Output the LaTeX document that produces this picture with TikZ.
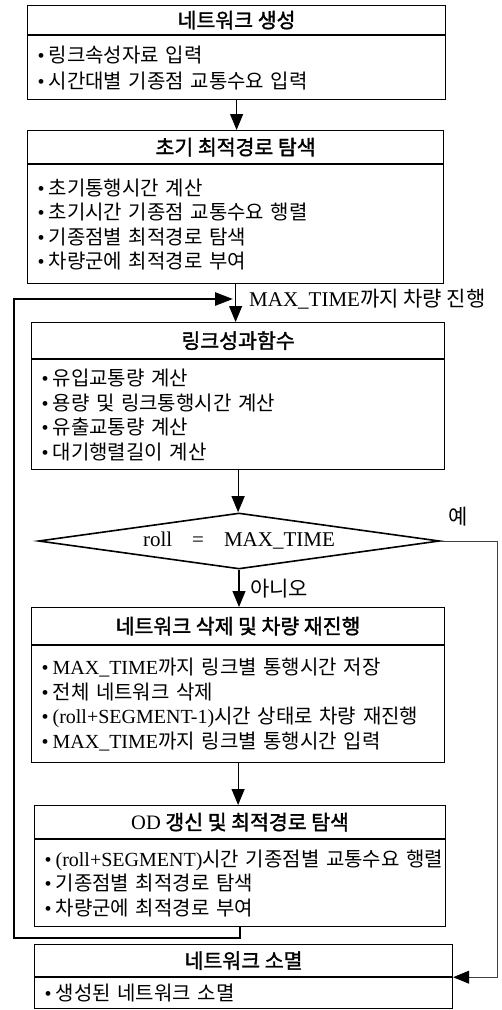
\documentclass[tikz,border=0pt]{standalone}
\usepackage{fontspec}
\setmainfont{Noto Sans CJK KR}
\newfontfamily\krbold[FakeBold=1.6]{Noto Sans CJK KR}
\newfontfamily\latin[Scale=1.0]{Liberation Serif}
\usetikzlibrary{shapes.geometric,arrows.meta}
\newcommand{\LT}[1]{{\latin #1}}
\newcommand{\bl}{\LT{\textbullet}\hspace{4pt}}
\newcommand{\itm}[1]{\mbox{\bl #1}}
\tikzset{
  x=1pt, y=-1pt,
  basefont/.style={font=\fontsize{20}{24.5}\selectfont},
  titlebox/.style={draw, line width=1.2pt, anchor=north west, inner sep=0pt, font=\fontsize{20.5}{24.5}\selectfont\krbold},
  bodybox/.style={draw, line width=1.2pt, anchor=north west, inner xsep=10pt, inner ysep=0pt, align=left, basefont},
  divline/.style={line width=2pt},
  arr/.style={-{Triangle[length=16pt,width=13pt]}, line width=1.2pt},
  looparr/.style={-{Triangle[length=18pt,width=13pt]}, line width=2.6pt},
  yesline/.style={-{Triangle[length=16pt,width=13pt,black]}, line width=0.8pt, draw=black!75},
  lbl/.style={anchor=west, inner sep=0pt, font=\fontsize{21}{24.5}\selectfont},
  decision/.style={diamond, draw, line width=1.6pt, inner sep=0pt, aspect=7.16, minimum width=401pt, minimum height=56pt, font=\fontsize{21}{24.5}\selectfont}
}
\begin{document}
\begin{tikzpicture}
\useasboundingbox (0,0) rectangle (502,1010);

% Box 1
\node[titlebox, minimum width=418pt, minimum height=29pt] (b1t) at (27,5) {네트워크 생성};
\node[bodybox, text width=398pt, minimum height=64pt] (b1b) at (b1t.south west) {\itm{링크속성자료 입력}\\[2pt] \itm{시간대별 기종점 교통수요 입력}};
\draw[divline] (b1b.north west) -- (b1b.north east);

% Box 2
\node[titlebox, minimum width=416pt, minimum height=33pt] (b2t) at (27,130) {초기 최적경로 탐색};
\node[bodybox, text width=396pt, minimum height=119pt] (b2b) at (b2t.south west) {\itm{초기통행시간 계산}\\ \itm{초기시간 기종점 교통수요 행렬}\\ \itm{기종점별 최적경로 탐색}\\ \itm{차량군에 최적경로 부여}};
\draw[divline] (b2b.north west) -- (b2b.north east);

% Box 3
\node[titlebox, minimum width=413pt, minimum height=36pt] (b3t) at (31,322) {링크성과함수};
\node[bodybox, text width=393pt, minimum height=110pt] (b3b) at (b3t.south west) {\itm{유입교통량 계산}\\ \itm{용량 및 링크통행시간 계산}\\ \itm{유출교통량 계산}\\ \itm{대기행렬길이 계산}};
\draw[divline] (b3b.north west) -- (b3b.north east);

% Decision
\node[decision] (dia) at (239,541) {\LT{roll\hspace{0.95em}=\hspace{0.95em}MAX\_TIME}};

% Box 4
\node[titlebox, minimum width=413pt, minimum height=37pt] (b4t) at (31,607) {네트워크 삭제 및 차량 재진행};
\node[bodybox, text width=393pt, minimum height=117pt] (b4b) at (b4t.south west) {\itm{\LT{MAX\_TIME}까지 링크별 통행시간 저장}\\ \itm{전체 네트워크 삭제}\\ \itm{\LT{(roll+SEGMENT-1)}시간 상태로 차량 재진행}\\ \itm{\LT{MAX\_TIME}까지 링크별 통행시간 입력}};
\draw[divline] (b4b.north west) -- (b4b.north east);

% Box 5
\node[titlebox, minimum width=411pt, minimum height=33pt] (b5t) at (34,805) {\LT{OD} 갱신 및 최적경로 탐색};
\node[bodybox, text width=391pt, minimum height=87pt] (b5b) at (b5t.south west) {\itm{\LT{(roll+SEGMENT)}시간 기종점별 교통수요 행렬}\\ \itm{기종점별 최적경로 탐색}\\ \itm{차량군에 최적경로 부여}};
\draw[divline] (b5b.north west) -- (b5b.north east);

% Box 6
\node[titlebox, minimum width=418pt, minimum height=32pt] (b6t) at (34,944) {네트워크 소멸};
\node[bodybox, text width=398pt, minimum height=31pt] (b6b) at (b6t.south west) {\itm{생성된 네트워크 소멸}};
\draw[divline] (b6b.north west) -- (b6b.north east);

% Vertical flow
\draw[arr] (b1b.south) -- (b1b.south |- b2t.north);
\draw[arr] (b2b.south) -- (b2b.south |- b3t.north);
\draw[arr] (b3b.south) -- (b3b.south |- dia.north);
\draw[arr] (dia.south) -- (dia.south |- b4t.north);
\draw[arr] (b4b.south) -- (b4b.south |- b5t.north);

% Labels
\node[lbl] (lmax) at (249,299) {\LT{MAX\_TIME}까지 차량 진행};
\node[lbl] (lno) at (250,589) {아니오};
\node[lbl] (lyes) at (448,517) {예};

% Loop back
\coordinate (lb) at (14,938);
\coordinate (lt) at (14,299);
\coordinate (ltip) at (233,299);
\draw[looparr] (b5b.south) -- (b5b.south |- lb) -- (lb) -- (lt) -- (ltip);

% Yes branch
\coordinate (yc) at (497,541);
\draw[yesline] (dia.east) -- (yc) -- (yc |- b6b.north east) -- (b6b.north east);
\end{tikzpicture}
\end{document}
